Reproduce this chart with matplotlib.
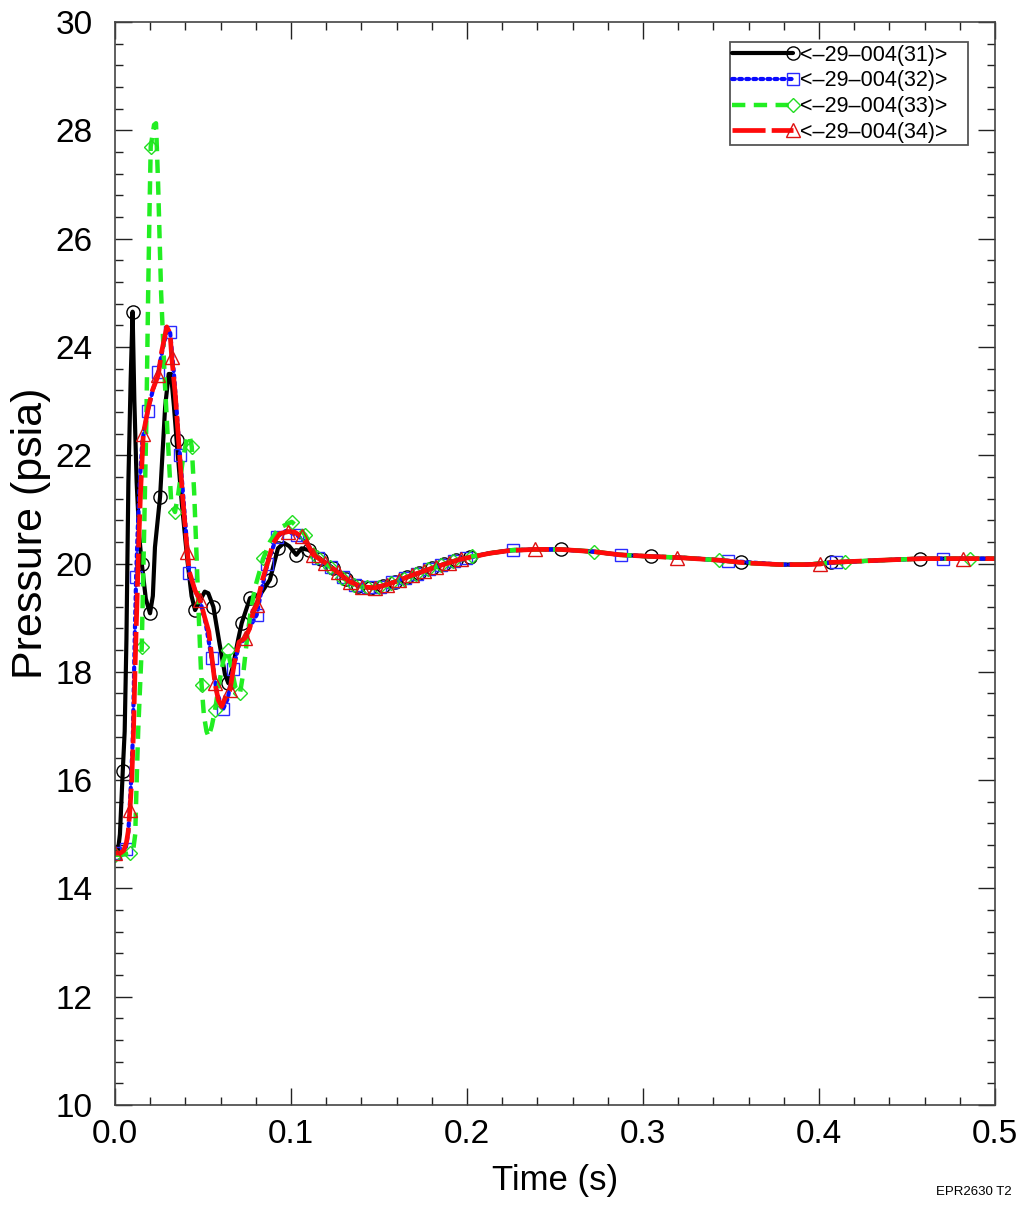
import numpy as np
import matplotlib
matplotlib.use("Agg")
import matplotlib.pyplot as plt
from matplotlib.lines import Line2D
from matplotlib.legend_handler import HandlerBase
from matplotlib.ticker import MultipleLocator, FormatStrFormatter

plt.rcParams['font.family'] = ['Liberation Sans', 'DejaVu Sans']

# ---------------- data ----------------
labels = ["<\u201329\u2013004(31)>", "<\u201329\u2013004(32)>",
          "<\u201329\u2013004(33)>", "<\u201329\u2013004(34)>"]

t_31 = [0.0000, 0.0017, 0.0028, 0.0044, 0.0055, 0.0065, 0.0076, 0.0089, 0.0100, 0.0110,
        0.0123, 0.0138, 0.0152, 0.0175, 0.0199, 0.0215, 0.0227, 0.0256, 0.0285, 0.0305,
        0.0318, 0.0335, 0.0350, 0.0380, 0.0410, 0.0435, 0.0455, 0.0480, 0.0510, 0.0530,
        0.0559, 0.0595, 0.0625, 0.0644, 0.0670, 0.0700, 0.0720, 0.0767, 0.0800, 0.0830,
        0.0880, 0.0926, 0.0960, 0.0990, 0.1030, 0.1060, 0.1100, 0.1170, 0.1240, 0.1310,
        0.1380, 0.1450, 0.1520, 0.1590, 0.1660, 0.1730, 0.1800, 0.1870, 0.1940, 0.2017,
        0.2130, 0.2240, 0.2390, 0.2534, 0.2716, 0.2870, 0.3044, 0.3210, 0.3440, 0.3557,
        0.3780, 0.3930, 0.4066, 0.4350, 0.4574, 0.4800, 0.5000]
p_31 = [14.65, 14.70, 15.00, 16.16, 16.90, 18.60, 21.50, 23.40, 24.65, 23.00,
        21.50, 20.50, 20.00, 19.35, 19.08, 19.40, 20.30, 21.23, 22.90, 23.50,
        23.50, 22.90, 22.28, 21.10, 20.10, 19.40, 19.14, 19.30, 19.48, 19.45,
        19.20, 18.50, 17.95, 17.79, 18.10, 18.60, 18.90, 19.36, 19.40, 19.45,
        19.70, 20.28, 20.38, 20.32, 20.16, 20.28, 20.25, 20.08, 19.91, 19.71,
        19.59, 19.55, 19.59, 19.66, 19.75, 19.83, 19.91, 19.99, 20.06, 20.12,
        20.19, 20.24, 20.26, 20.26, 20.22, 20.16, 20.13, 20.11, 20.06, 20.02,
        19.98, 19.98, 20.02, 20.06, 20.09, 20.09, 20.09]
mk_31 = [0.0, 0.0044, 0.0100, 0.0152, 0.0199, 0.0256, 0.0350, 0.0455, 0.0559, 0.0644,
         0.0720, 0.0767, 0.0880, 0.0926, 0.1030, 0.1100, 0.1170, 0.1240, 0.1310, 0.1380,
         0.1450, 0.1520, 0.1590, 0.1660, 0.1730, 0.1800, 0.1870, 0.1940, 0.2017, 0.2534,
         0.3044, 0.3557, 0.4066, 0.4574]

t_32 = [0.0000, 0.0030, 0.0060, 0.0076, 0.0090, 0.0095, 0.0101, 0.0112, 0.0120, 0.0130,
        0.0140, 0.0155, 0.0186, 0.0215, 0.0246, 0.0270, 0.0295, 0.0313, 0.0335, 0.0369,
        0.0390, 0.0410, 0.0422, 0.0455, 0.0485, 0.0515, 0.0549, 0.0580, 0.0614, 0.0640,
        0.0672, 0.0705, 0.0740, 0.0770, 0.0805, 0.0835, 0.0866, 0.0918, 0.0970, 0.1032,
        0.1080, 0.1155, 0.1225, 0.1295, 0.1365, 0.1435, 0.1505, 0.1575, 0.1645, 0.1715,
        0.1785, 0.1855, 0.1925, 0.1995, 0.2130, 0.2263, 0.2528, 0.2716, 0.2873, 0.3044,
        0.3210, 0.3485, 0.3780, 0.3930, 0.4097, 0.4350, 0.4590, 0.4706, 0.5000]
p_32 = [14.65, 14.65, 14.72, 15.05, 15.88, 16.31, 16.74, 18.60, 19.75, 20.70,
        21.45, 22.25, 22.82, 23.20, 23.54, 23.95, 24.30, 24.28, 23.50, 22.00,
        21.15, 20.30, 19.82, 19.50, 19.30, 18.90, 18.25, 17.60, 17.31, 17.50,
        18.06, 18.50, 18.62, 18.85, 19.05, 19.55, 19.99, 20.49, 20.60, 20.53,
        20.40, 20.10, 19.94, 19.75, 19.61, 19.56, 19.57, 19.65, 19.73, 19.81,
        19.89, 19.97, 20.04, 20.10, 20.19, 20.25, 20.26, 20.22, 20.16, 20.13,
        20.11, 20.05, 19.98, 19.98, 20.02, 20.06, 20.09, 20.09, 20.09]
mk_32 = [0.0, 0.0060, 0.0120, 0.0186, 0.0246, 0.0313, 0.0369, 0.0422, 0.0549, 0.0614,
         0.0672, 0.0805, 0.0866, 0.0918, 0.1032, 0.1155, 0.1225, 0.1295, 0.1365, 0.1435,
         0.1505, 0.1575, 0.1645, 0.1715, 0.1785, 0.1855, 0.1925, 0.1995, 0.2263, 0.2873,
         0.3485, 0.4097, 0.4706]

t_33 = [0.0000, 0.0040, 0.0085, 0.0105, 0.0115, 0.0125, 0.0132, 0.0152, 0.0165, 0.0178,
        0.0188, 0.0196, 0.0203, 0.0222, 0.0233, 0.0245, 0.0262, 0.0284, 0.0305, 0.0320,
        0.0341, 0.0360, 0.0385, 0.0410, 0.0425, 0.0436, 0.0450, 0.0465, 0.0475, 0.0485,
        0.0492, 0.0505, 0.0520, 0.0532, 0.0550, 0.0568, 0.0590, 0.0615, 0.0640, 0.0660,
        0.0685, 0.0710, 0.0730, 0.0750, 0.0770, 0.0795, 0.0843, 0.0880, 0.0930, 0.1004,
        0.1045, 0.1080, 0.1150, 0.1220, 0.1290, 0.1360, 0.1430, 0.1500, 0.1570, 0.1640,
        0.1710, 0.1780, 0.1850, 0.1920, 0.2027, 0.2131, 0.2263, 0.2528, 0.2723, 0.2869,
        0.3044, 0.3210, 0.3434, 0.3589, 0.3778, 0.3930, 0.4148, 0.4350, 0.4590, 0.4858,
        0.5000]
p_33 = [14.62, 14.62, 14.65, 14.75, 15.00, 16.20, 16.93, 18.46, 20.50, 22.60,
        24.90, 26.50, 27.70, 28.10, 28.13, 27.00, 25.00, 23.30, 22.00, 21.10,
        20.95, 21.30, 21.90, 22.35, 22.35, 22.16, 21.30, 20.00, 19.10, 18.30,
        17.76, 17.20, 16.90, 16.80, 17.00, 17.29, 17.75, 18.20, 18.40, 18.10,
        17.70, 17.60, 18.00, 18.60, 19.10, 19.55, 20.10, 20.40, 20.65, 20.77,
        20.65, 20.53, 20.12, 19.94, 19.74, 19.60, 19.56, 19.56, 19.64, 19.72,
        19.80, 19.89, 19.97, 20.04, 20.13, 20.19, 20.25, 20.26, 20.22, 20.16,
        20.13, 20.11, 20.06, 20.01, 19.98, 19.98, 20.03, 20.06, 20.09, 20.09,
        20.09]
mk_33 = [0.0, 0.0085, 0.0152, 0.0203, 0.0341, 0.0436, 0.0492, 0.0568, 0.0640, 0.0710,
         0.0843, 0.1004, 0.1080, 0.1150, 0.1220, 0.1290, 0.1360, 0.1430, 0.1500, 0.1570,
         0.1640, 0.1710, 0.1780, 0.1850, 0.1920, 0.2027, 0.2723, 0.3434, 0.4148, 0.4858]

t_34 = [0.0000, 0.0030, 0.0050, 0.0065, 0.0075, 0.0085, 0.0095, 0.0105, 0.0115, 0.0125,
        0.0135, 0.0145, 0.0161, 0.0186, 0.0213, 0.0246, 0.0265, 0.0294, 0.0313, 0.0322,
        0.0343, 0.0365, 0.0385, 0.0411, 0.0422, 0.0455, 0.0483, 0.0510, 0.0533, 0.0549,
        0.0568, 0.0587, 0.0606, 0.0630, 0.0653, 0.0680, 0.0705, 0.0739, 0.0765, 0.0785,
        0.0805, 0.0838, 0.0866, 0.0898, 0.0935, 0.0985, 0.1020, 0.1060, 0.1095, 0.1127,
        0.1195, 0.1265, 0.1335, 0.1405, 0.1475, 0.1545, 0.1615, 0.1685, 0.1755, 0.1825,
        0.1895, 0.1965, 0.2131, 0.2244, 0.2386, 0.2528, 0.2716, 0.2869, 0.3044, 0.3195,
        0.3438, 0.3589, 0.3778, 0.3930, 0.4006, 0.4063, 0.4347, 0.4590, 0.4816, 0.5000]
p_34 = [14.65, 14.65, 14.70, 14.85, 15.05, 15.45, 16.00, 16.90, 18.20, 19.30,
        20.40, 21.30, 22.40, 22.82, 23.20, 23.48, 23.91, 24.37, 24.25, 23.82,
        23.10, 22.10, 21.20, 20.22, 19.85, 19.50, 19.33, 19.00, 18.74, 18.30,
        17.79, 17.48, 17.36, 17.55, 17.66, 18.20, 18.55, 18.62, 18.80, 19.10,
        19.23, 19.70, 20.00, 20.37, 20.55, 20.59, 20.58, 20.50, 20.35, 20.16,
        20.01, 19.84, 19.66, 19.57, 19.55, 19.61, 19.69, 19.78, 19.86, 19.94,
        20.01, 20.08, 20.19, 20.24, 20.26, 20.26, 20.22, 20.16, 20.13, 20.11,
        20.06, 20.01, 19.98, 19.98, 19.99, 20.02, 20.06, 20.09, 20.09, 20.09]
mk_34 = [0.0, 0.0085, 0.0161, 0.0246, 0.0322, 0.0411, 0.0483, 0.0568, 0.0653, 0.0739,
         0.0805, 0.0985, 0.1060, 0.1127, 0.1195, 0.1265, 0.1335, 0.1405, 0.1475, 0.1545,
         0.1615, 0.1685, 0.1755, 0.1825, 0.1895, 0.1965, 0.2386, 0.3195, 0.4006, 0.4816]

x_ticks = [0.0, 0.1, 0.2, 0.3, 0.4, 0.5]
y_ticks = [10, 12, 14, 16, 18, 20, 22, 24, 26, 28, 30]

for a, b in [(t_31, p_31), (t_32, p_32), (t_33, p_33), (t_34, p_34)]:
    assert len(a) == len(b), (len(a), len(b))

# ---------------- styles ----------------
styles = [
    dict(color='black', lw=3.0, ls='-', marker='o', ms=9.5, mec='black'),
    dict(color='#0a0aff', lw=3.0, ls=(0, (0.7, 1.0)), marker='s', ms=8.5, mec='#2a2aff'),
    dict(color='#22ee22', lw=3.2, ls=(0, (3.0, 1.9)), marker='D', ms=7.5, mec='#22dd22'),
    dict(color='#ff0a0a', lw=3.4, ls=(0, (7.0, 1.3)), marker='^', ms=10.5, mec='#dd1111'),
]

def mark_idx(t, mk):
    t = np.asarray(t)
    return sorted({int(np.argmin(np.abs(t - m))) for m in mk})

fig = plt.figure(figsize=(10.26, 12.05), dpi=100)
ax = fig.add_axes([115 / 1026, 1 - 1105 / 1205, 880 / 1026, 1083 / 1205])

series = [(t_31, p_31, mk_31), (t_32, p_32, mk_32), (t_33, p_33, mk_33), (t_34, p_34, mk_34)]
handles = []
for (t, p, mk), st, lab in zip(series, styles, labels):
    ln, = ax.plot(t, p, color=st['color'], lw=st['lw'], ls=st['ls'],
                  marker=st['marker'], ms=st['ms'], mfc='none', mec=st['mec'], mew=1.0,
                  markevery=mark_idx(t, mk), label=lab,
                  dash_capstyle='round' if st['marker'] == 's' else 'butt',
                  solid_capstyle='round')
    handles.append(ln)


class EndMarkerHandler(HandlerBase):
    def create_artists(self, legend, orig_handle, xdescent, ydescent,
                       width, height, fontsize, trans):
        y = height / 2 - ydescent
        x0, x1 = -xdescent, -xdescent + width
        line = Line2D([x0, x1], [y, y])
        line.update_from(orig_handle)
        line.set_marker('None')
        line.set_markevery(None)
        line.set_transform(trans)
        mk = Line2D([x1], [y])
        mk.update_from(orig_handle)
        mk.set_linestyle('None')
        mk.set_markevery(None)
        mk.set_transform(trans)
        return [line, mk]


leg = ax.legend(handles=handles, labels=[lab + "   " for lab in labels],
                handler_map={Line2D: EndMarkerHandler()},
                loc='upper right', bbox_to_anchor=(968 / 1026, 1 - 42 / 1205),
                bbox_transform=fig.transFigure, borderaxespad=0,
                fontsize=15.5, handlelength=2.85, handletextpad=0.3,
                labelspacing=0.22, borderpad=0.12,
                fancybox=False, framealpha=1, edgecolor='#555555')
leg.get_frame().set_linewidth(1.3)

ax.set_xlim(0, 0.5)
ax.set_ylim(10, 30)
ax.set_xticks(x_ticks)
ax.set_yticks(y_ticks)
ax.xaxis.set_major_formatter(FormatStrFormatter('%.1f'))
ax.xaxis.set_minor_locator(MultipleLocator(0.02))
ax.yaxis.set_minor_locator(MultipleLocator(0.4))
ax.tick_params(which='both', direction='in', top=True, right=True, width=1.0,
               color='#222222')
ax.tick_params(which='major', length=12, labelsize=24)
ax.tick_params(which='minor', length=6)
ax.tick_params(axis='x', which='major', pad=10)
ax.tick_params(axis='y', which='major', pad=16)
for s in ax.spines.values():
    s.set_linewidth(1.2)
    s.set_color('#444444')

ax.set_xlabel('Time (s)', fontsize=25, labelpad=10)
ax.set_ylabel('Pressure (psia)', fontsize=31)
ax.yaxis.set_label_coords(-0.073, 0.528)

fig.text(1012 / 1026, 1 - 1192 / 1205, 'EPR2630 T2', ha='right', va='center',
         fontsize=9.5)

fig.savefig('out.png', dpi=100)
